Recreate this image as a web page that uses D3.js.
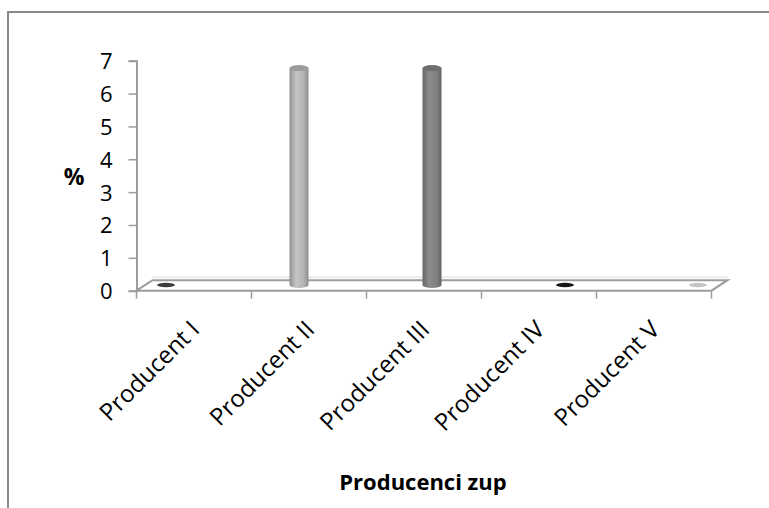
<!DOCTYPE html>
<html>
<head>
<meta charset="utf-8">
<script src="https://cdn.jsdelivr.net/npm/d3@7"></script>
<style>
  body { margin: 0; background: #fff; }
  #chart { width: 769px; height: 508px; }
  text { font-family: "Open Sans", sans-serif; fill: #000; }
</style>
</head>
<body>
<div id="chart"></div>
<script>
const categories = ["Producent I", "Producent II", "Producent III", "Producent IV", "Producent V"];
const values = [0, 6.6, 6.6, 0, 0];
const yTicks = [0, 1, 2, 3, 4, 5, 6, 7];
const barColors = ["#3c3c3c", "#b4b4b4", "#808080", "#151515", "#c4c4c4"];

const width = 769;
const height = 508;
const depth = {dx: 16, dy: -10.5};

const svg = d3.select("#chart")
    .append("svg")
    .attr("width", width)
    .attr("height", height);

// frame
svg.append("path")
    .attr("d", "M8,508 L8,12 L769,12")
    .attr("fill", "none")
    .attr("stroke", "#8a8a8a")
    .attr("stroke-width", 2);

const xScale = d3.scaleBand()
    .domain(categories)
    .range([136.5, 711.5]);

// bars sit at mid depth, spread a little wider (3d look)
const barX = d3.scalePoint()
    .domain(categories)
    .range([166, 698]);

const yScale = d3.scaleLinear()
    .domain([0, 7])
    .range([290.7, 60.7]);

// floor
const x0 = xScale.range()[0], x1 = xScale.range()[1], y0 = yScale(0);
svg.append("path")
    .attr("d", `M${x0},${y0} L${x0 + depth.dx},${y0 + depth.dy} L${x1 + depth.dx},${y0 + depth.dy} L${x1},${y0} Z`)
    .attr("fill", "#fff")
    .attr("stroke", "#9c9c9c")
    .attr("stroke-width", 2);
svg.append("line")
    .attr("x1", x0 + depth.dx).attr("x2", x1 + depth.dx)
    .attr("y1", y0 + depth.dy - 3).attr("y2", y0 + depth.dy - 3)
    .attr("stroke", "#dcdcdc")
    .attr("stroke-width", 1);

// y axis
const yAxis = svg.append("g")
    .attr("transform", `translate(${x0},0)`)
    .call(d3.axisLeft(yScale).tickValues(yTicks).tickSize(8).tickPadding(16).tickFormat(d3.format("d")));
yAxis.select(".domain").attr("stroke", "#9c9c9c").attr("stroke-width", 2);
yAxis.selectAll(".tick line").attr("stroke", "#9c9c9c").attr("stroke-width", 1.5);
yAxis.selectAll(".tick text")
    .style("font-size", "22px")
    .attr("fill", "#000")
    .attr("dy", "0.36em");

// x axis ticks (category boundaries)
const bounds = categories.map(c => xScale(c)).concat([x1]);
svg.selectAll(".xtick")
    .data(bounds)
    .enter()
    .append("line")
    .attr("class", "xtick")
    .attr("x1", d => d).attr("x2", d => d)
    .attr("y1", y0 + 1).attr("y2", y0 + 8)
    .attr("stroke", "#9c9c9c")
    .attr("stroke-width", 1.5);

svg.selectAll(".xlabel")
    .data(categories)
    .enter()
    .append("text")
    .attr("class", "xlabel")
    .attr("text-anchor", "end")
    .attr("transform", d => `translate(${xScale(d) + xScale.bandwidth() / 2 + 7},331) rotate(-45)`)
    .style("font-size", "24px")
    .text(d => d);

// gradients
const defs = svg.append("defs");
barColors.forEach((c, i) => {
  const g = defs.append("linearGradient")
      .attr("id", "grad" + i)
      .attr("x1", "0%").attr("x2", "100%");
  const base = d3.color(c);
  g.append("stop").attr("offset", "0%").attr("stop-color", base.darker(0.6));
  g.append("stop").attr("offset", "35%").attr("stop-color", base.brighter(0.25));
  g.append("stop").attr("offset", "75%").attr("stop-color", base);
  g.append("stop").attr("offset", "100%").attr("stop-color", base.darker(0.7));
});

// cylinders
const bw = 19, ry = 3;
const baseY = y0 + depth.dy / 2 - 0.5;
const bars = svg.selectAll(".bar")
    .data(values)
    .enter()
    .append("g")
    .attr("class", "bar");

bars.each(function(d, i) {
  const g = d3.select(this);
  const cx = barX(categories[i]);
  const top = baseY - (yScale(0) - yScale(d));
  if (d > 0) {
    g.append("path")
        .attr("d", `M${cx - bw / 2},${top} L${cx - bw / 2},${baseY} A${bw / 2},${ry} 0 0 0 ${cx + bw / 2},${baseY} L${cx + bw / 2},${top} Z`)
        .attr("fill", `url(#grad${i})`);
    g.append("ellipse")
        .attr("cx", cx).attr("cy", top)
        .attr("rx", bw / 2).attr("ry", ry)
        .attr("fill", d3.color(barColors[i]).darker(0.4));
  } else {
    g.append("ellipse")
        .attr("cx", cx).attr("cy", baseY)
        .attr("rx", 9).attr("ry", 2.2)
        .attr("fill", barColors[i]);
  }
});

// axis titles
svg.append("text")
    .attr("x", 74).attr("y", 185)
    .attr("text-anchor", "middle")
    .style("font-size", "23px")
    .style("font-weight", "bold")
    .text("%");

svg.append("text")
    .attr("x", 423).attr("y", 490)
    .attr("text-anchor", "middle")
    .style("font-size", "22px")
    .style("font-weight", "bold")
    .text("Producenci zup");
</script>
</body>
</html>
